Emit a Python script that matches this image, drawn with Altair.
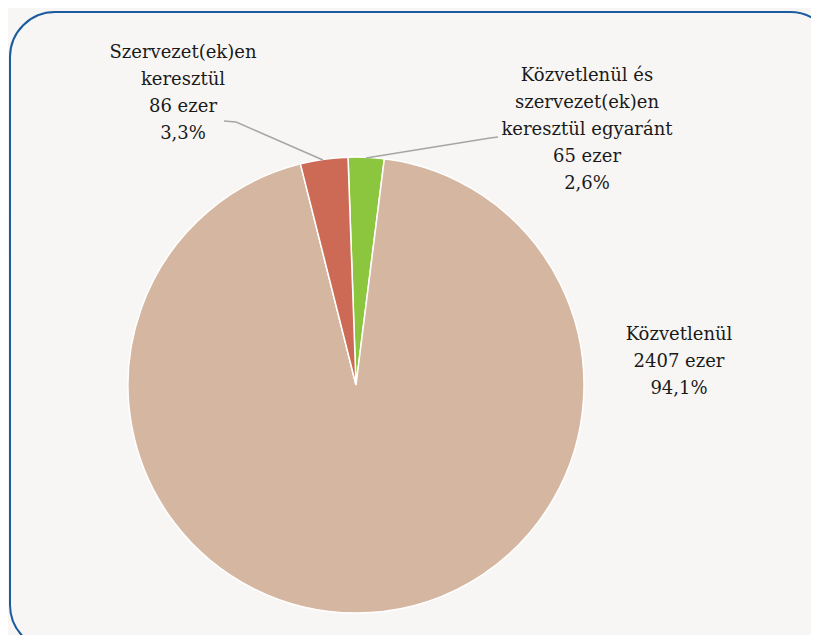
import altair as alt
import pandas as pd

# ---- data ----
categories = ["Közvetlenül és\nszervezet(ek)en\nkeresztül egyaránt", "Közvetlenül", "Szervezet(ek)en\nkeresztül"]
values = [65, 2407, 86]              # ezer fő
pct_labels = ["2,6%", "94,1%", "3,3%"]
colors = ["#8cc63e", "#d5b6a0", "#cc6a55"]

df = pd.DataFrame({
    "cat": categories,
    "value": values,
    "idx": list(range(len(categories))),
})

dummy = pd.DataFrame({"a": [0]})

W, H = 803, 627
CX, CY = 348, 377
R = 228
start = -0.035
TWO_PI = 6.283185307
FONT = "DejaVu Serif"

frame = alt.Chart(dummy).mark_rect(
    cornerRadius=45, fill="#f7f6f4", stroke="#1b5c9e", strokeWidth=2
).encode(
    x=alt.value(2), x2=alt.value(827), y=alt.value(4), y2=alt.value(642)
)

pie = alt.Chart(df).mark_arc(
    outerRadius=R, stroke="white", strokeWidth=1.5
).encode(
    theta=alt.Theta("value:Q", stack=True, scale=alt.Scale(range=[start, start + TWO_PI])),
    color=alt.Color("cat:N", scale=alt.Scale(domain=categories, range=colors), legend=None),
    order=alt.Order("idx:Q"),
    x=alt.value(CX),
    y=alt.value(CY),
)

# leader lines (segments)
segments = [
    (216, 113, 228, 114),
    (228, 114, 315, 152),
    (358, 150, 482, 130),
    (482, 130, 490, 129),
]
rules = [
    alt.Chart(dummy).mark_rule(color="#a6a6a6", strokeWidth=1.5).encode(
        x=alt.value(a), y=alt.value(b), x2=alt.value(c), y2=alt.value(d)
    )
    for a, b, c, d in segments
]

# label layout (positions only: first-line centre)
label_pos = {0: (579, 68), 1: (671, 327), 2: (175, 45)}
texts = []
for i, cat in enumerate(categories):
    lx, ly = label_pos[i]
    txt = f"{cat}\n{values[i]} ezer\n{pct_labels[i]}"
    tdf = pd.DataFrame({"t": [txt]})
    texts.append(
        alt.Chart(tdf).mark_text(
            font=FONT, fontSize=18, lineBreak="\n", lineHeight=27,
            align="center", baseline="middle", color="#1a1a1a"
        ).encode(text="t:N", x=alt.value(lx), y=alt.value(ly))
    )

chart = alt.layer(frame, pie, *rules, *texts).properties(
    width=W, height=H, background="#f7f6f4", padding=0,
    autosize=alt.AutoSizeParams(type="none")
).configure_view(stroke=None)

chart.save("out.html", embed_options={"renderer": "svg", "actions": False})
